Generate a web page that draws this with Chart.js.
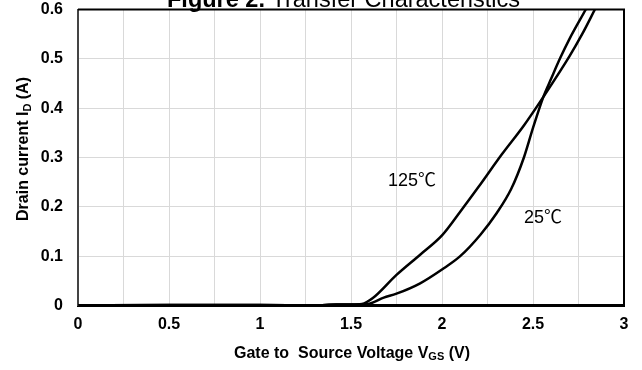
<!DOCTYPE html>
<html>
<head>
<meta charset="utf-8">
<script src="https://cdn.jsdelivr.net/npm/chart.js@4/dist/chart.umd.min.js"></script>
<style>
  html, body { margin: 0; padding: 0; background: #fff; }
  #wrap { width: 642px; height: 370px; position: relative; }
</style>
</head>
<body>
<div id="wrap"><canvas id="c" width="642" height="370"></canvas></div>
<script>
// ---- data ----
const vgs125 = [0, 0.5, 1.0, 1.3, 1.42, 1.5, 1.56, 1.62, 1.75, 1.88, 2.0, 2.1, 2.2, 2.33, 2.45, 2.557, 2.7, 2.77, 2.84];
const id125  = [0, 0.001, 0.001, 0, 0.002, 0.002, 0.003, 0.015, 0.062, 0.103, 0.142, 0.19, 0.24, 0.307, 0.365, 0.423, 0.505, 0.55, 0.6];
const vgs25  = [0, 0.5, 1.0, 1.3, 1.42, 1.5, 1.59, 1.68, 1.75, 1.88, 2.0, 2.1, 2.21, 2.3, 2.38, 2.45, 2.5, 2.557, 2.6, 2.65, 2.7, 2.79];
const id25   = [0, 0.001, 0.001, 0, 0.002, 0.002, 0.003, 0.016, 0.024, 0.045, 0.073, 0.1, 0.143, 0.187, 0.236, 0.3, 0.36, 0.423, 0.46, 0.502, 0.54, 0.6];
const seriesNames = ['125℃', '25℃'];
const xTickLabels = ['0', '0.5', '1', '1.5', '2', '2.5', '3'];
const yTickLabels = ['0', '0.1', '0.2', '0.3', '0.4', '0.5', '0.6'];
const titleBold = 'Figure 2.';
const titleRest = ' Transfer Characteristics';
const labelAnchors = [{ x: 1.835, y: 0.252 }, { x: 2.555, y: 0.177 }];

const toPts = (xs, ys) => xs.map((x, i) => ({ x: x, y: ys[i] }));

const FONT = "'Liberation Sans', Arial, 'Noto Sans CJK SC', sans-serif";

function drawRich(ctx, parts, x, y) {
  let cx = x;
  parts.forEach(p => {
    ctx.font = p.font;
    ctx.fillText(p.text, cx, y + (p.dy || 0));
    cx += ctx.measureText(p.text).width;
  });
  return cx - x;
}
function richWidth(ctx, parts) {
  let w = 0;
  parts.forEach(p => { ctx.font = p.font; w += ctx.measureText(p.text).width; });
  return w;
}

const decor = {
  id: 'decor',
  afterDraw(chart) {
    const ctx = chart.ctx;
    const a = chart.chartArea;
    const xs = chart.scales.x, ys = chart.scales.y;
    ctx.save();
    ctx.fillStyle = '#000';
    ctx.textAlign = 'left';
    ctx.textBaseline = 'alphabetic';
    // top & right frame
    ctx.strokeStyle = '#000';
    ctx.lineWidth = 2;
    ctx.beginPath();
    ctx.moveTo(a.left, a.top); ctx.lineTo(a.right, a.top); ctx.lineTo(a.right, a.bottom);
    ctx.stroke();

    // title (cropped at top like the reference)
    const tParts = [
      { text: titleBold, font: 'bold 23.5px ' + FONT },
      { text: titleRest, font: '23.5px ' + FONT }
    ];
    drawRich(ctx, tParts, 167, 7);

    // series labels
    ctx.font = '18px ' + FONT;
    ctx.textAlign = 'center';
    ctx.textBaseline = 'middle';
    seriesNames.forEach((n, i) => {
      ctx.fillText(n, xs.getPixelForValue(labelAnchors[i].x), ys.getPixelForValue(labelAnchors[i].y));
    });

    // x axis title with subscript
    ctx.textAlign = 'left';
    ctx.textBaseline = 'alphabetic';
    const xParts = [
      { text: 'Gate to  Source Voltage V', font: 'bold 16px ' + FONT },
      { text: 'GS', font: 'bold 11px ' + FONT, dy: 2 },
      { text: ' (V)', font: 'bold 16px ' + FONT }
    ];
    const xw = richWidth(ctx, xParts);
    drawRich(ctx, xParts, 352 - xw / 2, 358);

    // y axis title with subscript, rotated
    const yParts = [
      { text: 'Drain current I', font: 'bold 16px ' + FONT },
      { text: 'D', font: 'bold 11px ' + FONT, dy: 3 },
      { text: ' (A)', font: 'bold 16px ' + FONT }
    ];
    const yw = richWidth(ctx, yParts);
    ctx.translate(28, 149);
    ctx.rotate(-Math.PI / 2);
    drawRich(ctx, yParts, -yw / 2, 0);
    ctx.restore();
  }
};

new Chart(document.getElementById('c'), {
  type: 'line',
  data: {
    datasets: [
      { label: seriesNames[0], data: toPts(vgs125, id125) },
      { label: seriesNames[1], data: toPts(vgs25, id25) }
    ]
  },
  options: {
    responsive: false,
    animation: false,
    events: [],
    layout: { padding: { left: 0, right: 18, top: 9.5, bottom: 0 } },
    elements: {
      line: { borderColor: '#000', borderWidth: 2.5, cubicInterpolationMode: 'monotone', fill: false },
      point: { radius: 0 }
    },
    plugins: { legend: { display: false }, tooltip: { enabled: false }, title: { display: false } },
    scales: {
      x: {
        type: 'linear', min: 0, max: 3,
        afterFit(s) { s.height = 64.5; s.paddingLeft = 0; s.paddingRight = 0; },
        grid: { color: '#d9d9d9', lineWidth: 1, drawTicks: false },
        border: { color: '#000', width: 3 },
        ticks: {
          stepSize: 0.25, padding: 9, color: '#000',
          font: { family: FONT, size: 16, weight: 'bold' },
          maxRotation: 0, autoSkip: false,
          callback(v) {
            const k = Math.round(v / 0.5);
            return Math.abs(v - k * 0.5) < 1e-6 ? xTickLabels[k] : '';
          }
        }
      },
      y: {
        type: 'linear', min: 0, max: 0.6,
        afterFit(s) { s.width = 78; s.paddingTop = 0; s.paddingBottom = 0; },
        grid: { color: '#d9d9d9', lineWidth: 1, drawTicks: false },
        border: { color: '#444', width: 2 },
        ticks: {
          stepSize: 0.1, padding: 15, color: '#000',
          font: { family: FONT, size: 16, weight: 'bold' },
          callback(v) { return yTickLabels[Math.round(v * 10)]; }
        }
      }
    }
  },
  plugins: [decor]
});
</script>
</body>
</html>
